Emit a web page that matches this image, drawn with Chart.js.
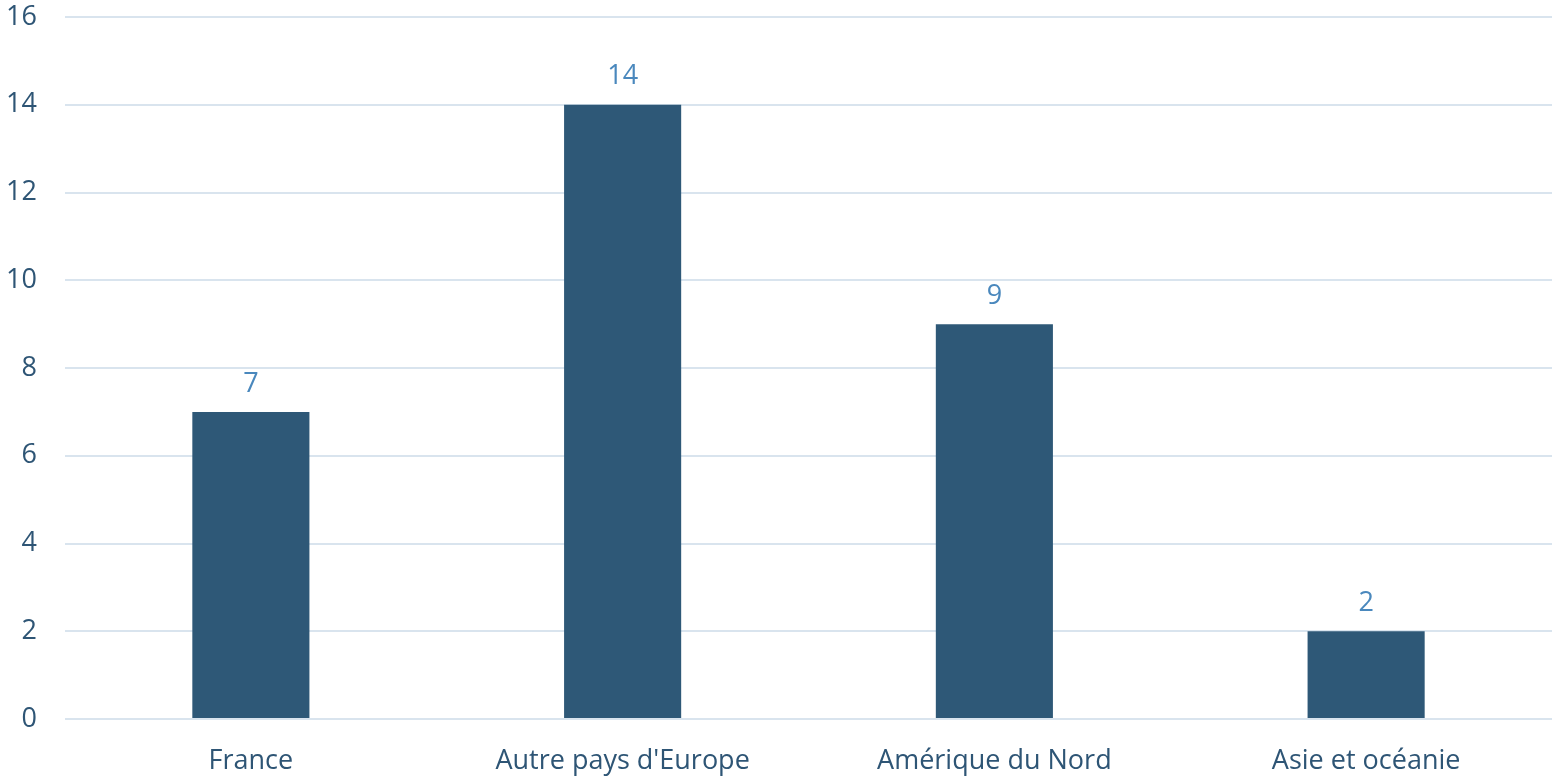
<!DOCTYPE html>
<html lang="fr">
<head>
<meta charset="UTF-8">
<script src="https://cdn.jsdelivr.net/npm/chart.js"></script>
<title>Répartition</title>
<style>
    html, body { margin: 0; padding: 0; background: #fff; }
    #wrap { width: 1555px; height: 779px; }
</style>
</head>
<body>
<div id="wrap"><canvas id="graphique"></canvas></div>
<script>
const categories = ['France', "Autre pays d'Europe", 'Amérique du Nord', 'Asie et océanie'];
const valeurs = [7, 14, 9, 2];
const yTicks = [0, 2, 4, 6, 8, 10, 12, 14, 16];

const textColor = '#2E5575';
const barColor = '#2E5877';
const labelColor = '#4A88BD';
const gridColor = '#D9E4EE';
const police = '"Open Sans", sans-serif';

// draw values above bars
const etiquettes = {
    id: 'etiquettes',
    afterDatasetsDraw(chart) {
        const ctx = chart.ctx;
        const meta = chart.getDatasetMeta(0);
        ctx.save();
        ctx.fillStyle = labelColor;
        ctx.font = '27px ' + police;
        ctx.textAlign = 'center';
        ctx.textBaseline = 'middle';
        meta.data.forEach((bar, i) => {
            ctx.fillText(String(valeurs[i]), bar.x, bar.y - 28);
        });
        ctx.restore();
    }
};

new Chart(document.getElementById('graphique'), {
    type: 'bar',
    data: {
        labels: categories,
        datasets: [{
            data: valeurs,
            backgroundColor: barColor,
            categoryPercentage: 1,
            barPercentage: 0.315
        }]
    },
    options: {
        responsive: true,
        maintainAspectRatio: false,
        animation: false,
        layout: { padding: { top: 17, right: 3, bottom: 0, left: 0 } },
        plugins: {
            legend: { display: false },
            tooltip: { enabled: false }
        },
        scales: {
            x: {
                afterFit(axis) {
                    axis.height = 60;
                    axis.paddingLeft = 0;
                    axis.paddingRight = 0;
                },
                grid: { display: false, drawTicks: false },
                border: { display: false },
                ticks: {
                    color: textColor,
                    font: { family: police, size: 27 },
                    padding: 26
                }
            },
            y: {
                min: 0,
                max: 16,
                afterBuildTicks(axis) {
                    axis.ticks = yTicks.map(v => ({ value: v }));
                },
                afterFit(axis) {
                    axis.width = 65;
                    axis.paddingTop = 0;
                    axis.paddingBottom = 0;
                },
                grid: { color: gridColor, lineWidth: 2, drawTicks: false },
                border: { display: false },
                ticks: {
                    color: textColor,
                    font: { family: police, size: 27 },
                    padding: 28
                }
            }
        }
    },
    plugins: [etiquettes]
});
</script>
</body>
</html>
